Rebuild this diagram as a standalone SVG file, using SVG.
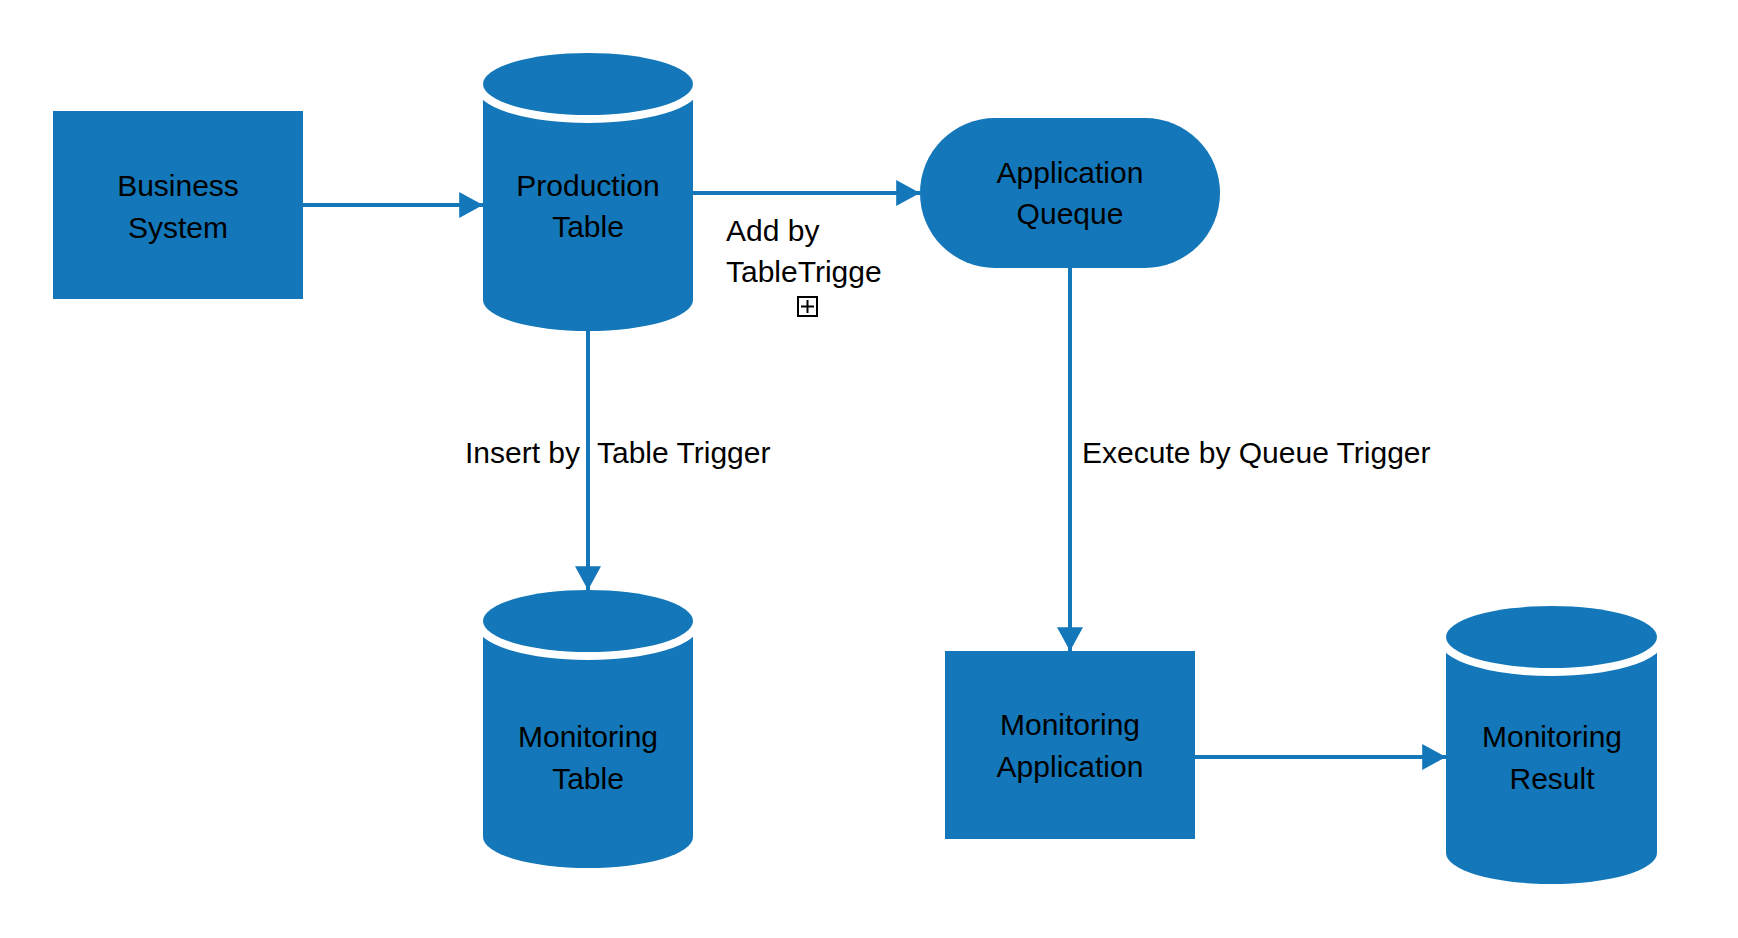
<svg xmlns="http://www.w3.org/2000/svg" width="1738" height="938" viewBox="0 0 1738 938">
<style>
.shape{fill:#1377b9;}
.top{fill:#1377b9;stroke:#ffffff;stroke-width:16;paint-order:stroke;}
.lbl{font-family:"Liberation Sans",Arial,sans-serif;font-size:30px;fill:#000;}
.mid{text-anchor:middle;}
.edge{stroke:#1377b9;stroke-width:4;fill:none;marker-end:url(#arrow);}
</style>
<defs>
<marker id="arrow" markerUnits="userSpaceOnUse" markerWidth="24" markerHeight="26" viewBox="0 0 22 24" refX="22" refY="12" orient="auto">
<path d="M0,0 L22,12 L0,24 Z" fill="#1377b9"/>
</marker>
</defs>
<rect width="1738" height="938" fill="#ffffff"/>
<g id="business-system">
<rect class="shape" x="53" y="111" width="250" height="188"/>
<text class="lbl mid" x="178" y="196">Business</text>
<text class="lbl mid" x="178" y="238">System</text>
</g>
<g id="production-table">
<path class="shape" d="M483,84 L483,300 A105,31 0 0 0 693,300 L693,84 Z"/>
<ellipse class="top" cx="588" cy="84" rx="105" ry="31"/>
<text class="lbl mid" x="588" y="196">Production</text>
<text class="lbl mid" x="588" y="237">Table</text>
</g>
<g id="application-queue">
<rect class="shape" x="920" y="118" width="300" height="150" rx="75" ry="75"/>
<text class="lbl mid" x="1070" y="183">Application</text>
<text class="lbl mid" x="1070" y="224">Queque</text>
</g>
<g id="monitoring-table">
<path class="shape" d="M483,621 L483,837 A105,31 0 0 0 693,837 L693,621 Z"/>
<ellipse class="top" cx="588" cy="621" rx="105" ry="31"/>
<text class="lbl mid" x="588" y="747">Monitoring</text>
<text class="lbl mid" x="588" y="789">Table</text>
</g>
<g id="monitoring-application">
<rect class="shape" x="945" y="651" width="250" height="188"/>
<text class="lbl mid" x="1070" y="735">Monitoring</text>
<text class="lbl mid" x="1070" y="777">Application</text>
</g>
<g id="monitoring-result">
<path class="shape" d="M1446,637 L1446,853 A105.5,31 0 0 0 1657,853 L1657,637 Z"/>
<ellipse class="top" cx="1551.5" cy="637" rx="105.5" ry="31"/>
<text class="lbl mid" x="1552" y="747">Monitoring</text>
<text class="lbl mid" x="1552" y="789">Result</text>
</g>
<g id="connectors">
<path class="edge" d="M303,205 H483"/>
<path class="edge" d="M693,193 H920"/>
<path class="edge" d="M588,331 V590"/>
<path class="edge" d="M1070,268 V651"/>
<path class="edge" d="M1195,757 H1446"/>
</g>
<g id="edge-labels">
<text class="lbl" x="465" y="463">Insert by<tspan x="597">Table Trigger</tspan></text>
<text class="lbl" x="1082" y="463">Execute by Queue Trigger</text>
<text class="lbl" x="726" y="241">Add by</text>
<text class="lbl" x="726" y="282">TableTrigge</text>
<g id="expand-icon" fill="none" stroke="#000" stroke-width="2">
<rect x="798" y="297" width="19" height="19"/>
<path d="M807.5,300 V313 M801,306.5 H814"/>
</g>
</g>
</svg>
